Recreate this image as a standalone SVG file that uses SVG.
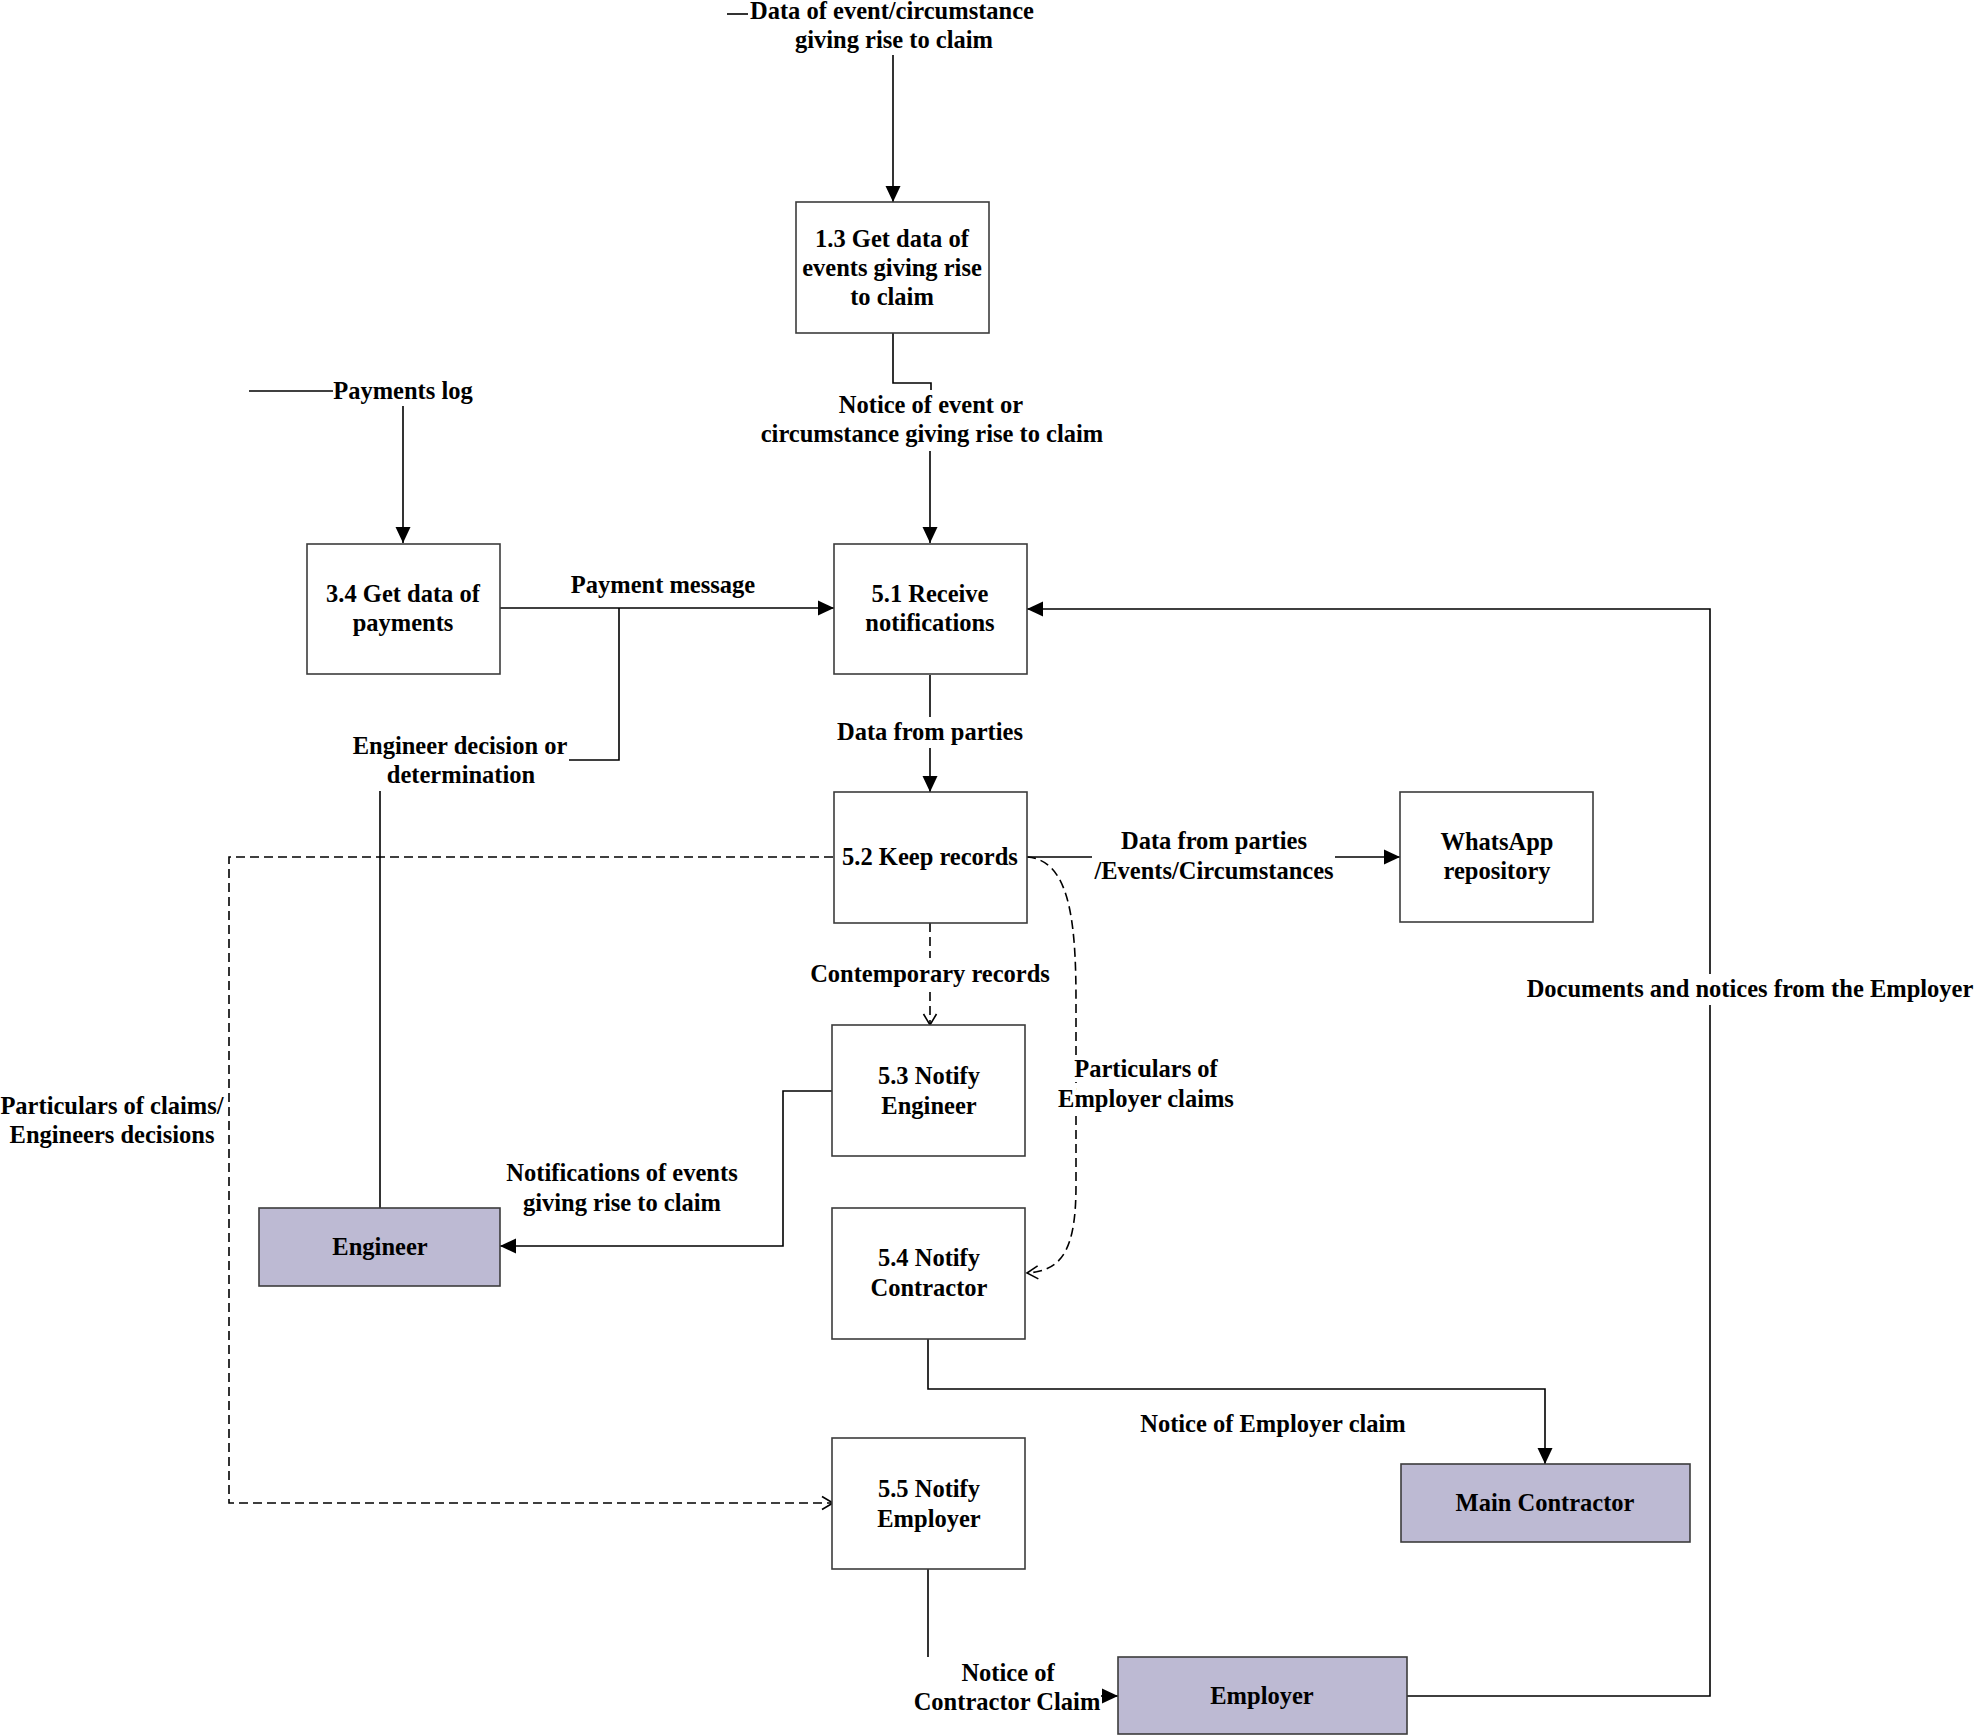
<svg xmlns="http://www.w3.org/2000/svg" width="1976" height="1735" viewBox="0 0 1976 1735">
<style>
text{font-family:"Liberation Serif","Times New Roman",serif;font-weight:bold;font-size:24.5px;fill:#000;text-anchor:middle}
.box{fill:#fff;stroke:#3c3c3c;stroke-width:1.6}
.ext{fill:#bdbad3;stroke:#3c3c3c;stroke-width:1.6}
.ln{fill:none;stroke:#000;stroke-width:1.6}
.ar{marker-end:url(#fa)}
.dash{fill:none;stroke:#000;stroke-width:1.6;stroke-dasharray:9 5}
.oa{marker-end:url(#oa)}
.halo{stroke:#fff;stroke-width:10;paint-order:stroke}
</style>
<defs>
<marker id="fa" markerUnits="userSpaceOnUse" markerWidth="17" markerHeight="16" refX="16" refY="7.5" orient="auto" viewBox="0 0 17 15">
<path d="M0,0 L16,7.5 L0,15 z" fill="#000"/>
</marker>
<marker id="oa" markerUnits="userSpaceOnUse" markerWidth="16" markerHeight="16" refX="12" refY="7" orient="auto" viewBox="0 0 16 14">
<path d="M1,0.5 L12,7 L1,13.5" fill="none" stroke="#000" stroke-width="1.6"/>
</marker>
</defs>
<rect width="1976" height="1735" fill="#fff"/>

<g id="connectors">
<path class="ln" d="M727,14 L748,14"/>
<path class="ln ar" d="M893,55 L893,202"/>
<path class="ln" d="M893,333 L893,383 L931,383 L931,390"/>
<path class="ln ar" d="M930,451 L930,543"/>
<path class="ln" d="M249,391 L333,391"/>
<path class="ln ar" d="M403,406 L403,543"/>
<path class="ln ar" d="M500,608 L834,608"/>
<path class="ln" d="M569,760 L619,760 L619,608"/>
<path class="ln" d="M380,791 L380,1208"/>
<path class="ln" d="M1407,1696 L1710,1696 L1710,1005"/>
<path class="ln ar" d="M1710,974 L1710,609 L1027,609"/>
<path class="ln" d="M930,675 L930,717"/>
<path class="ln ar" d="M930,748 L930,792"/>
<path class="ln" d="M1027,857 L1092,857"/>
<path class="ln ar" d="M1335,857 L1400,857"/>
<path class="dash" d="M930,923 L930,958"/>
<path class="dash oa" d="M930,992 L930,1025"/>
<path class="dash oa" d="M1027,857 C1068,860 1076,915 1076,1000 L1076,1185 C1076,1250 1062,1271 1027,1273"/>
<path class="dash oa" d="M833,857 L229,857 L229,1503 L833,1503"/>
<path class="ln ar" d="M832,1091 L783,1091 L783,1246 L500,1246"/>
<path class="ln ar" d="M928,1338 L928,1389 L1545,1389 L1545,1464"/>
<path class="ln" d="M928,1569 L928,1657"/>
<path class="ln ar" d="M1101,1696 L1118,1696"/>
</g>

<g id="labels">
<text x="892" y="19">Data of event/circumstance</text>
<text x="894" y="48">giving rise to claim</text>
<text x="931" y="412.5">Notice of event or</text>
<text x="932" y="441.5">circumstance giving rise to claim</text>
<text x="403" y="399">Payments log</text>
<text x="663" y="593">Payment message</text>
<text x="460" y="754">Engineer decision or</text>
<text x="461" y="783">determination</text>
<text x="930" y="740">Data from parties</text>
<text x="1214" y="849">Data from parties</text>
<text x="1214" y="879">/Events/Circumstances</text>
<text x="930" y="982">Contemporary records</text>
<text class="halo" x="1146" y="1077">Particulars of</text>
<text class="halo" x="1146" y="1107">Employer claims</text>
<text x="1750" y="997">Documents and notices from the Employer</text>
<text x="112" y="1114">Particulars of claims/</text>
<text x="112" y="1143">Engineers decisions</text>
<text x="622" y="1181">Notifications of events</text>
<text x="622" y="1211">giving rise to claim</text>
<text x="1273" y="1432">Notice of Employer claim</text>
<text x="1008" y="1681">Notice of</text>
<text x="1007" y="1710">Contractor Claim</text>
</g>

<g id="n13"><rect class="box" x="796" y="202" width="193" height="131"/>
<text x="892" y="246.5">1.3 Get data of</text><text x="892" y="275.5">events giving rise</text><text x="892" y="304.5">to claim</text></g>
<g id="n34"><rect class="box" x="307" y="544" width="193" height="130"/>
<text x="403" y="602">3.4 Get data of</text><text x="403" y="631">payments</text></g>
<g id="n51"><rect class="box" x="834" y="544" width="193" height="130"/>
<text x="930" y="602">5.1 Receive</text><text x="930" y="631">notifications</text></g>
<g id="n52"><rect class="box" x="834" y="792" width="193" height="131"/>
<text x="930" y="865">5.2 Keep records</text></g>
<g id="whatsapp"><rect class="box" x="1400" y="792" width="193" height="130"/>
<text x="1497" y="850">WhatsApp</text><text x="1497" y="879">repository</text></g>
<g id="n53"><rect class="box" x="832" y="1025" width="193" height="131"/>
<text x="929" y="1084">5.3 Notify</text><text x="929" y="1114">Engineer</text></g>
<g id="n54"><rect class="box" x="832" y="1208" width="193" height="131"/>
<text x="929" y="1266">5.4 Notify</text><text x="929" y="1296">Contractor</text></g>
<g id="n55"><rect class="box" x="832" y="1438" width="193" height="131"/>
<text x="929" y="1497">5.5 Notify</text><text x="929" y="1527">Employer</text></g>
<g id="engineer"><rect class="ext" x="259" y="1208" width="241" height="78"/>
<text x="380" y="1255">Engineer</text></g>
<g id="maincontractor"><rect class="ext" x="1401" y="1464" width="289" height="78"/>
<text x="1545" y="1511">Main Contractor</text></g>
<g id="employer"><rect class="ext" x="1118" y="1657" width="289" height="77"/>
<text x="1262" y="1704">Employer</text></g>
</svg>
